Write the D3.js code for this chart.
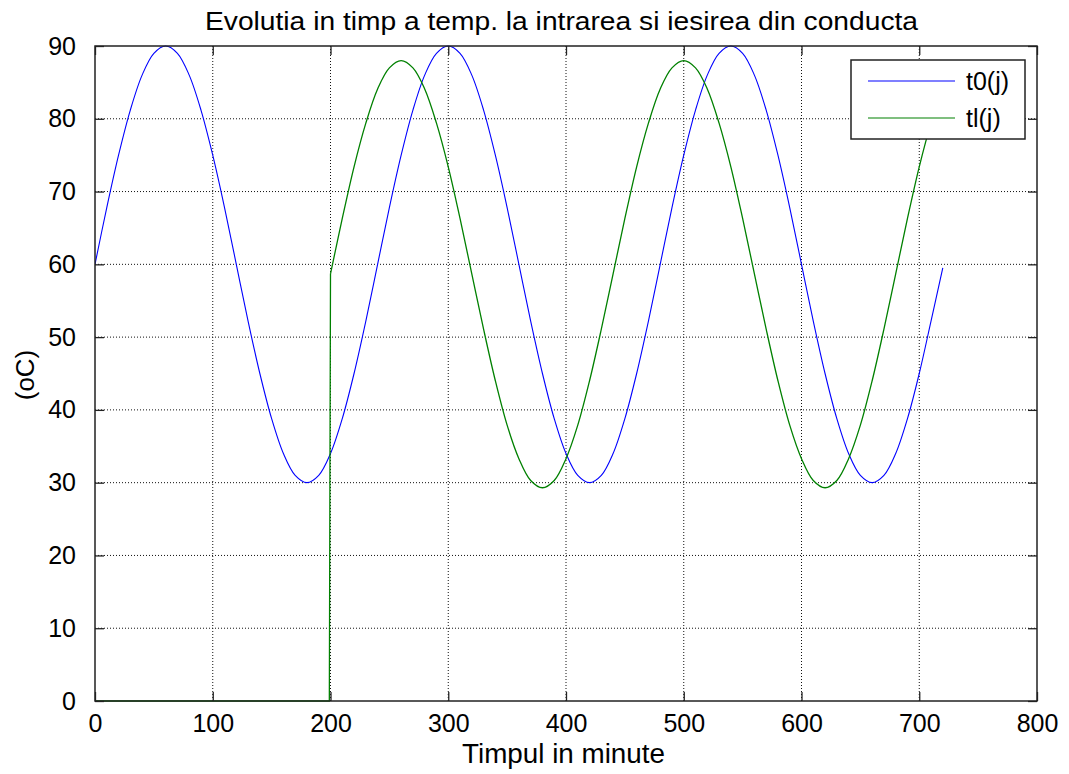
<!DOCTYPE html>
<html><head><meta charset="utf-8">
<script src="https://cdn.jsdelivr.net/npm/d3@7"></script>
<style>
html,body{margin:0;padding:0;background:#fff;}
svg{display:block;font-family:"Liberation Sans",Arial,sans-serif;}
</style></head>
<body>
<svg id="chart" width="1069" height="774"></svg>
<script>
// ---- data ----
const chartTitle = "Evolutia in timp a temp. la intrarea si iesirea din conducta";
const xLabel = "Timpul in minute";
const yLabel = "(oC)";
const xTicks = [0,100,200,300,400,500,600,700,800];
const yTicks = [0,10,20,30,40,50,60,70,80,90];
const seriesNames = ["t0(j)", "tl(j)"];

// t0(j): every 10 minutes, 0..720
const t0Minutes = [0,10,20,30,40,50,60,70,80,90,100,110,120,130,140,150,160,170,180,190,200,210,220,230,
  240,250,260,270,280,290,300,310,320,330,340,350,360,370,380,390,400,410,420,430,440,450,460,470,
  480,490,500,510,520,530,540,550,560,570,580,590,600,610,620,630,640,650,660,670,680,690,700,710,720];
const t0Values = [60.0,67.8,75.0,81.2,86.0,89.0,90.0,89.0,86.0,81.2,75.0,67.8,60.0,52.2,45.0,38.8,34.0,31.0,30.0,31.0,34.0,38.8,45.0,52.2,
  60.0,67.8,75.0,81.2,86.0,89.0,90.0,89.0,86.0,81.2,75.0,67.8,60.0,52.2,45.0,38.8,34.0,31.0,30.0,31.0,34.0,38.8,45.0,52.2,
  60.0,67.8,75.0,81.2,86.0,89.0,90.0,89.0,86.0,81.2,75.0,67.8,60.0,52.2,45.0,38.8,34.0,31.0,30.0,31.0,34.0,38.8,45.0,52.2,
  59.5];

// tl(j): zero until the jump near minute 200
const tlMinutes = [0,50,100,150,199,
  200,210,220,230,240,250,260,270,280,290,300,310,320,330,340,350,360,370,380,390,400,410,420,430,
  440,450,460,470,480,490,500,510,520,530,540,550,560,570,580,590,600,610,620,630,640,650,660,670,
  680,690,700,710,720];
const tlValues = [0,0,0,0,0,
  58.7,66.3,73.4,79.4,84.1,87.0,88.0,87.0,84.1,79.4,73.4,66.3,58.7,51.1,44.0,37.9,33.3,30.3,29.3,30.3,33.3,37.9,44.0,51.1,
  58.7,66.3,73.4,79.4,84.1,87.0,88.0,87.0,84.1,79.4,73.4,66.3,58.7,51.1,44.0,37.9,33.3,30.3,29.3,30.3,33.3,37.9,44.0,51.1,
  58.7,66.3,73.4,79.4,84.1];

const colors = ["#0000ff", "#008000"];

// ---- drawing ----
const svg = d3.select("#chart");
const L = 95, R = 1037, T = 46, B = 701;
const x = d3.scaleLinear().domain([0,800]).range([L,R]);
const y = d3.scaleLinear().domain([0,90]).range([B,T]);

// grid
const grid = svg.append("g");
grid.selectAll("line.gx").data(xTicks.slice(1,-1)).join("line")
  .attr("x1", d=>x(d)).attr("x2", d=>x(d)).attr("y1", T).attr("y2", B)
  .attr("stroke","#111").attr("stroke-width",1).attr("stroke-dasharray","1,2");
grid.selectAll("line.gy").data(yTicks.slice(1,-1)).join("line")
  .attr("x1", L).attr("x2", R).attr("y1", d=>y(d)).attr("y2", d=>y(d))
  .attr("stroke","#111").attr("stroke-width",1).attr("stroke-dasharray","1,2");

// lines
const smooth = d3.line().x(d=>x(d[0])).y(d=>y(d[1])).curve(d3.curveCatmullRom);
const straight = d3.line().x(d=>x(d[0])).y(d=>y(d[1]));
const t0Data = t0Minutes.map((m,i)=>[m,t0Values[i]]);
const tlData = tlMinutes.map((m,i)=>[m,tlValues[i]]);
const jump = tlValues.findIndex(v=>v>0);
const clip = svg.append("clipPath").attr("id","clip").append("rect")
  .attr("x",L).attr("y",T-1).attr("width",R-L).attr("height",B-T+2);
const lines = svg.append("g").attr("clip-path","url(#clip)");
lines.append("path").datum(t0Data).attr("d",smooth).attr("fill","none")
  .attr("stroke",colors[0]).attr("stroke-width",1.1);
lines.append("path").datum(tlData.slice(0,jump+1)).attr("d",straight).attr("fill","none")
  .attr("stroke",colors[1]).attr("stroke-width",1.3);
lines.append("path").datum(tlData.slice(jump)).attr("d",smooth).attr("fill","none")
  .attr("stroke",colors[1]).attr("stroke-width",1.3);

// axes (inward ticks on all four sides)
const tickLen = 9;
svg.append("g").attr("transform",`translate(0,${B})`)
  .call(d3.axisBottom(x).tickValues(xTicks).tickSizeInner(-tickLen).tickSizeOuter(0).tickPadding(tickLen+4))
  .call(g=>g.select(".domain").remove());
svg.append("g").attr("transform",`translate(0,${T})`)
  .call(d3.axisTop(x).tickValues(xTicks).tickSizeInner(-tickLen).tickSizeOuter(0).tickFormat(""))
  .call(g=>g.select(".domain").remove());
svg.append("g").attr("transform",`translate(${L},0)`)
  .call(d3.axisLeft(y).tickValues(yTicks).tickSizeInner(-tickLen).tickSizeOuter(0).tickPadding(tickLen+10))
  .call(g=>g.select(".domain").remove());
svg.append("g").attr("transform",`translate(${R},0)`)
  .call(d3.axisRight(y).tickValues(yTicks).tickSizeInner(-tickLen).tickSizeOuter(0).tickFormat(""))
  .call(g=>g.select(".domain").remove());
svg.selectAll(".tick line").attr("stroke","#222").attr("stroke-width",1.3);
svg.selectAll(".tick text").attr("font-size",25).attr("fill","#000")
  .attr("font-family","'Liberation Sans',Arial,sans-serif");

// box
svg.append("rect").attr("x",L).attr("y",T).attr("width",R-L).attr("height",B-T)
  .attr("fill","none").attr("stroke","#222").attr("stroke-width",1.5);

// title & labels
svg.append("text").attr("x",205).attr("y",30)
  .attr("font-size",26).attr("fill","#000")
  .attr("textLength",713).attr("lengthAdjust","spacingAndGlyphs").text(chartTitle);
svg.append("text").attr("x",462).attr("y",763)
  .attr("font-size",27).attr("fill","#000")
  .attr("textLength",203).attr("lengthAdjust","spacingAndGlyphs").text(xLabel);
svg.append("text").attr("transform","translate(34,375) rotate(-90)").attr("text-anchor","middle")
  .attr("font-size",26).attr("fill","#000").text(yLabel);

// legend
const lg = svg.append("g");
lg.append("rect").attr("x",851).attr("y",60).attr("width",174).attr("height",79)
  .attr("fill","#fff").attr("stroke","#222").attr("stroke-width",1.5);
seriesNames.forEach((n,i)=>{
  const yy = 81 + i*37;
  lg.append("line").attr("x1",868).attr("x2",955).attr("y1",yy).attr("y2",yy)
    .attr("stroke",colors[i]).attr("stroke-width",1.2);
  lg.append("text").attr("x",966).attr("y",yy+9).attr("font-size",25).attr("fill","#000").text(n);
});
</script>
</body></html>
